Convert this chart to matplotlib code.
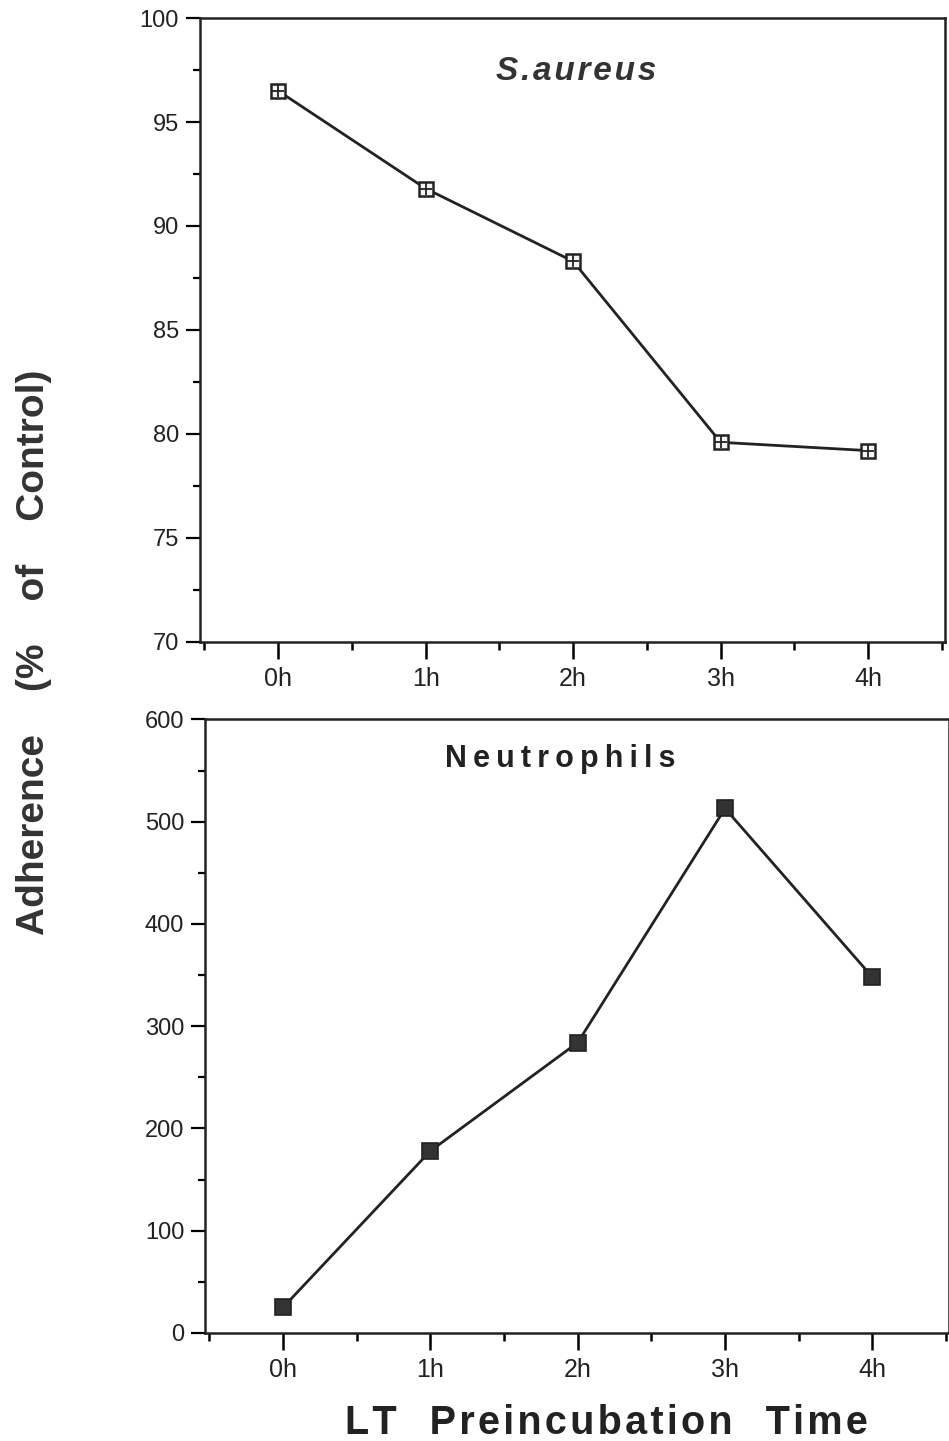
import matplotlib
matplotlib.use("Agg")
import matplotlib.pyplot as plt
from matplotlib.ticker import MultipleLocator, FixedLocator

plt.rcParams['font.family'] = ['Liberation Sans', 'DejaVu Sans']

time_labels = ["0h", "1h", "2h", "3h", "4h"]
saureus = [96.5, 91.8, 88.3, 79.6, 79.2]
neutrophils = [25, 178, 284, 513, 348]

x = list(range(len(time_labels)))

fig = plt.figure(figsize=(9.49, 14.41), dpi=100)
ax1 = fig.add_axes([0.2107, 0.5545, 0.785, 0.433])
ax2 = fig.add_axes([0.216, 0.075, 0.7840, 0.4257])

def style(ax, ylim, major, minor):
    ax.set_xlim(-0.53, 4.52)
    ax.set_ylim(*ylim)
    ax.xaxis.set_major_locator(FixedLocator(x))
    ax.xaxis.set_minor_locator(MultipleLocator(0.5))
    ax.yaxis.set_major_locator(MultipleLocator(major))
    ax.yaxis.set_minor_locator(MultipleLocator(minor))
    ax.set_xticklabels(time_labels, fontsize=18, color='#222222')
    ax.tick_params(axis='x', which='major', direction='out', length=12, width=1.8, pad=6)
    ax.tick_params(axis='x', which='minor', direction='out', length=6, width=1.8)
    ax.tick_params(axis='y', which='major', direction='out', length=10, width=1.6, labelsize=17, pad=5,
                   labelcolor='#222222')
    ax.tick_params(axis='y', which='minor', direction='out', length=5, width=1.6)
    for s in ax.spines.values():
        s.set_linewidth(1.8)
        s.set_color('#222222')

style(ax1, (70, 100), 5, 2.5)
style(ax2, (0, 600), 100, 50)

ax1.plot(x, saureus, color='#222222', lw=2, zorder=2)
ax1.plot(x, saureus, ls='none', marker='s', ms=10, mfc='#f4f4f4', mec='#222222', mew=1.8, zorder=3)
ax1.plot(x, saureus, ls='none', marker='+', ms=9, mec='#222222', mew=1.3, zorder=4)

ax2.plot(x, neutrophils, color='#222222', lw=2, zorder=2)
ax2.plot(x, neutrophils, ls='none', marker='s', ms=11, mfc='#333333', mec='#222222', mew=1.2, zorder=3)

hair = '\u200a'
ax1.text(0.505, 0.915, hair.join("S.aureus"), transform=ax1.transAxes, ha='center', va='center',
         fontsize=24, fontweight='bold', fontstyle='italic', color='#333333')
ax2.text(0.478, 0.935, '\u2009'.join("Neutrophils"), transform=ax2.transAxes, ha='center', va='center',
         fontsize=22, fontweight='bold', color='#222222')

fig.text(0.036, 0.5475, "Adherence    (%    of    Control)", rotation=90, ha='center', va='center',
         fontsize=28, fontweight='bold', color='#333333')
xl = "   ".join(hair.join(w) for w in ["LT", "Preincubation", "Time"])
fig.text(0.639, 0.0125, xl, ha='center', va='center',
         fontsize=28.5, fontweight='bold', color='#222222')

fig.savefig("out.png", dpi=100)
